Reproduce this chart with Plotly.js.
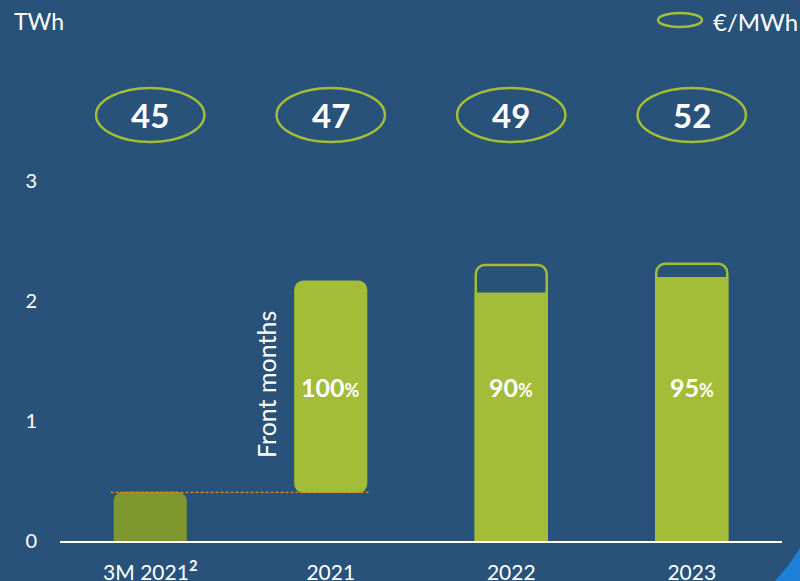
<!DOCTYPE html>
<html><head><meta charset="utf-8">
<script src="https://cdn.plot.ly/plotly-3.0.1.min.js"></script>
<style>html,body{margin:0;padding:0;background:#285279;}</style>
</head><body><div id="chart" style="width:800px;height:581px;"></div>
<script>
const categories = ["3M 2021<sup><b>2</b></sup>", "2021", "2022", "2023"];
const prices = [45, 47, 49, 52];
const hedgedPct = ["", "100", "90", "95"];
// 3M 2021 volume
const q1Value = [0.41, null, null, null];
// 2021 floating bar
const frontBase = [null, 0.40, null, null];
const frontTop = [null, 2.17, null, null];
// 2022/2023 total volume (outline) and hedged volume (filled)
const totalVolume = [null, null, 2.30, 2.31];
const hedgedVolume = [null, null, 2.07, 2.20];

const bright = "#A3BD38", dark = "#7F972F", bg = "#285279";
const font = "Lato, 'Open Sans', sans-serif";
const bw = 0.405;

const traces = [
  {type:"bar", x:categories, y:q1Value, width:bw, marker:{color:dark, cornerradius:9}, hoverinfo:"skip"},
  {type:"bar", x:categories, base:frontBase, y:frontTop.map((t,i)=>t==null?null:t-frontBase[i]), width:bw, marker:{color:bright, cornerradius:9}, hoverinfo:"skip"},
  {type:"bar", x:categories, y:hedgedVolume, width:bw, marker:{color:bright}, hoverinfo:"skip"},
  {type:"bar", x:categories, y:totalVolume, width:bw-0.012, marker:{color:"rgba(0,0,0,0)", cornerradius:9, line:{color:bright, width:2.5}}, hoverinfo:"skip"}
];

const px = v => (v-60)/722, py = v => (541-v)/480;
const shapes = [
  {type:"line", xref:"x", yref:"y", x0:-0.22, x1:1.21, y0:0.405, y1:0.405, line:{color:"#D98A2B", width:1.2, dash:"3px,2px"}},
  {type:"path", xref:"paper", yref:"paper", path:`M ${px(774)} ${py(582)} Q ${px(790)} ${py(565)} ${px(801)} ${py(546)} L ${px(801)} ${py(582)} Z`, fillcolor:"#1E7FD6", line:{width:0}},
  {type:"circle", xref:"paper", yref:"paper", x0:px(658), x1:px(702), y0:py(27), y1:py(13), line:{color:bright, width:2.5}}
];
const annotations = [];
categories.forEach((c,i)=>{
  shapes.push({type:"circle", xref:"x", yref:"y", x0:i-0.3, x1:i+0.3, y0:3.55-0.225, y1:3.55+0.225, line:{color:bright, width:2.5}});
  annotations.push({x:i, y:3.55, xref:"x", yref:"y", text:"<b>"+prices[i]+"</b>", showarrow:false, font:{family:font, size:33, color:"#ffffff"}});
  if (hedgedPct[i]) annotations.push({x:i, y:1.28, xref:"x", yref:"y", text:"<b>"+hedgedPct[i]+"<span style='font-size:18px'>%</span></b>", showarrow:false, font:{family:font, size:25, color:"#ffffff"}});
});
annotations.push({x:px(266), y:py(385), xref:"paper", yref:"paper", xanchor:"center", yanchor:"middle", text:"Front months", textangle:-90, showarrow:false, font:{family:font, size:25, color:"#ffffff"}});
annotations.push({x:px(12), y:py(21), xref:"paper", yref:"paper", xanchor:"left", yanchor:"middle", text:"TWh", showarrow:false, font:{family:font, size:23, color:"#ffffff"}});
annotations.push({x:px(711), y:py(21), xref:"paper", yref:"paper", xanchor:"left", yanchor:"middle", text:"€/MWh", showarrow:false, font:{family:font, size:24, color:"#ffffff"}});

const layout = {
  width:800, height:581,
  margin:{l:60, r:18, t:61, b:40},
  paper_bgcolor:bg, plot_bgcolor:bg,
  barmode:"overlay", showlegend:false,
  font:{family:font, color:"#ffffff"},
  xaxis:{type:"category", range:[-0.5,3.5], showgrid:false, showline:true, linecolor:"#ffffff", linewidth:2,
         ticks:"outside", ticklen:12, tickcolor:"rgba(0,0,0,0)", tickfont:{family:font, size:21, color:"#ffffff"}, fixedrange:true},
  yaxis:{range:[0,4], tickvals:[0,1,2,3], showgrid:false, zeroline:false, showline:false,
         ticks:"outside", ticklen:18, tickcolor:"rgba(0,0,0,0)", tickfont:{family:font, size:20, color:"#ffffff"}, fixedrange:true},
  shapes, annotations
};
Plotly.newPlot("chart", traces, layout, {displayModeBar:false, staticPlot:true});
</script></body></html>
